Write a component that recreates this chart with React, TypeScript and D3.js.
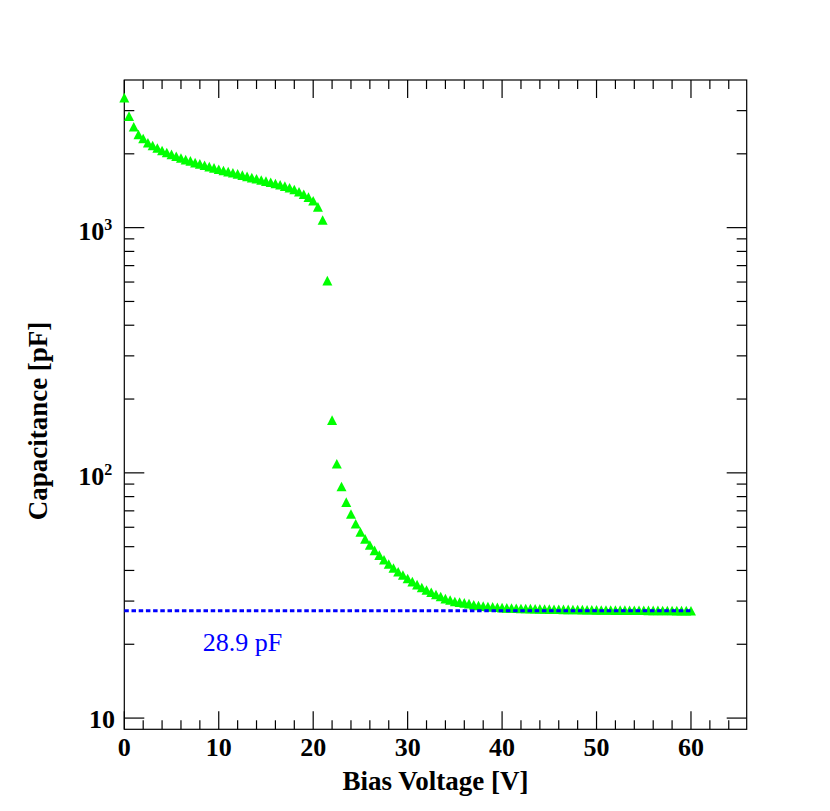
import React, { useEffect, useRef } from 'react';
import { select, scaleLinear, scaleLog, range } from 'd3';

const voltages: number[] = [
  0, 0.5, 1, 1.5, 2, 2.5, 3, 3.5, 4, 4.5, 5, 5.5, 6, 6.5, 7, 7.5, 8, 8.5, 9, 9.5,
  10, 10.5, 11, 11.5, 12, 12.5, 13, 13.5, 14, 14.5, 15, 15.5, 16, 16.5, 17, 17.5, 18, 18.5, 19, 19.5,
  20, 20.5, 21, 21.5, 22, 22.5, 23, 23.5, 24, 24.5, 25, 25.5, 26, 26.5, 27, 27.5, 28, 28.5, 29, 29.5,
  30, 30.5, 31, 31.5, 32, 32.5, 33, 33.5, 34, 34.5, 35, 35.5, 36, 36.5, 37, 37.5, 38, 38.5, 39, 39.5,
  40, 40.5, 41, 41.5, 42, 42.5, 43, 43.5, 44, 44.5, 45, 45.5, 46, 46.5, 47, 47.5, 48, 48.5, 49, 49.5,
  50, 50.5, 51, 51.5, 52, 52.5, 53, 53.5, 54, 54.5, 55, 55.5, 56, 56.5, 57, 57.5, 58, 58.5, 59, 59.5,
  60,
];

// capacitance in pF, one per voltage step
const capacitance: number[] = [
  3390, 2849, 2579, 2399, 2311, 2218, 2162, 2113, 2064, 2026, 1989, 1955, 1924, 1894, 1871, 1841, 1819, 1797, 1773, 1752,
  1730, 1709, 1692, 1675, 1657, 1638, 1618, 1600, 1583, 1565, 1548, 1531, 1514, 1496, 1477, 1455, 1430, 1400, 1368, 1332,
  1288, 1215, 1075, 608, 164, 109, 88, 76, 68, 62, 57.4, 53.8, 50.8, 48.3, 46.2, 44.2, 42.5, 40.9, 39.5, 38.3,
  37.1, 36.0, 35.0, 34.1, 33.3, 32.6, 31.9, 31.3, 30.7, 30.3, 29.9, 29.7, 29.5, 29.3, 29.0, 28.8, 28.6, 28.5, 28.4, 28.3,
  28.2, 28.15, 28.1, 28.05, 28.0, 27.97, 27.94, 27.91, 27.88, 27.85, 27.82, 27.8, 27.78, 27.76, 27.74, 27.72, 27.7, 27.68, 27.66, 27.64,
  27.62, 27.6, 27.59, 27.58, 27.57, 27.56, 27.55, 27.54, 27.53, 27.52, 27.51, 27.5, 27.49, 27.48, 27.47, 27.46, 27.45, 27.44, 27.43, 27.42,
  27.41,
];

const xTicks: number[] = [0, 10, 20, 30, 40, 50, 60];
const yDecades: number[] = [10, 100, 1000];
const yDecadeLabels: [string, string][] = [['10', ''], ['10', '2'], ['10', '3']];

const plateau = 27.4;
const plateauLabel = '28.9 pF';

const dims = {
  width: 830,
  height: 811,
  left: 124.3,
  right: 746.7,
  top: 80,
  bottom: 729.3,
};

const font = '"Liberation Serif", "Times New Roman", serif';

function App() {
  const svgRef = useRef<SVGSVGElement | null>(null);

  useEffect(() => {
    const svg = select(svgRef.current);
    svg.selectAll('*').remove();

    const x = scaleLinear().domain([0, 65.9]).range([dims.left, dims.right]);
    const y = scaleLog().domain([9, 4000]).range([dims.bottom, dims.top]);

    const g = svg.append('g');

    // frame
    g.append('rect')
      .attr('x', dims.left)
      .attr('y', dims.top)
      .attr('width', dims.right - dims.left)
      .attr('height', dims.bottom - dims.top)
      .attr('fill', 'none')
      .attr('stroke', '#000')
      .attr('stroke-width', 1.2);

    // x ticks, bottom and top
    const xMinor = range(0, 66, 2).filter(v => v % 10 !== 0);
    const ticks = g.append('g').attr('stroke', '#000').attr('stroke-width', 1.2);
    xTicks.forEach(v => {
      ticks.append('line').attr('x1', x(v)).attr('x2', x(v)).attr('y1', dims.bottom).attr('y2', dims.bottom - 18);
      ticks.append('line').attr('x1', x(v)).attr('x2', x(v)).attr('y1', dims.top).attr('y2', dims.top + 18);
    });
    xMinor.forEach(v => {
      ticks.append('line').attr('x1', x(v)).attr('x2', x(v)).attr('y1', dims.bottom).attr('y2', dims.bottom - 9);
      ticks.append('line').attr('x1', x(v)).attr('x2', x(v)).attr('y1', dims.top).attr('y2', dims.top + 9);
    });

    // y ticks, left and right
    const yMinor: number[] = [];
    [10, 100, 1000].forEach(d => {
      for (let k = 2; k <= 9; k++) {
        const v = d * k;
        if (v < 4000) yMinor.push(v);
      }
    });
    yDecades.forEach(v => {
      ticks.append('line').attr('x1', dims.left).attr('x2', dims.left + 20).attr('y1', y(v)).attr('y2', y(v));
      ticks.append('line').attr('x1', dims.right).attr('x2', dims.right - 20).attr('y1', y(v)).attr('y2', y(v));
    });
    yMinor.forEach(v => {
      ticks.append('line').attr('x1', dims.left).attr('x2', dims.left + 10).attr('y1', y(v)).attr('y2', y(v));
      ticks.append('line').attr('x1', dims.right).attr('x2', dims.right - 10).attr('y1', y(v)).attr('y2', y(v));
    });

    // x tick labels
    g.append('g')
      .selectAll('text')
      .data(xTicks)
      .enter()
      .append('text')
      .attr('x', d => x(d))
      .attr('y', 756)
      .attr('text-anchor', 'middle')
      .attr('font-family', font)
      .attr('font-weight', 'bold')
      .attr('font-size', 26)
      .text(d => `${d}`);

    // y tick labels
    yDecades.forEach((v, i) => {
      const [base, exp] = yDecadeLabels[i];
      const t = g.append('text')
        .attr('y', y(v) + (exp ? 12 : 10))
        .attr('text-anchor', 'end')
        .attr('font-family', font)
        .attr('font-weight', 'bold')
        .attr('font-size', 26);
      if (exp) {
        t.attr('x', 112.3);
        t.append('tspan').text(base);
        t.append('tspan').attr('font-size', 16).attr('dy', -10).text(exp);
      } else {
        t.attr('x', 115).text(base);
      }
    });

    // axis titles
    g.append('text')
      .attr('x', (dims.left + dims.right) / 2)
      .attr('y', 790)
      .attr('text-anchor', 'middle')
      .attr('font-family', font)
      .attr('font-weight', 'bold')
      .attr('font-size', 27)
      .text('Bias Voltage [V]');
    g.append('text')
      .attr('transform', 'translate(47, 421) rotate(-90)')
      .attr('text-anchor', 'middle')
      .attr('font-family', font)
      .attr('font-weight', 'bold')
      .attr('font-size', 27)
      .text('Capacitance [pF]');

    // data points: filled triangles
    const w = 5;
    const h = 4.8;
    g.append('g')
      .selectAll('path')
      .data(voltages.map((v, i) => ({ v, c: capacitance[i] })))
      .enter()
      .append('path')
      .attr('d', d => {
        const cx = x(d.v);
        const cy = y(d.c);
        return `M${cx - w},${cy + h}L${cx + w},${cy + h}L${cx},${cy - h}Z`;
      })
      .attr('fill', '#00ff00');

    // plateau line
    g.append('line')
      .attr('x1', x(0))
      .attr('x2', x(60))
      .attr('y1', y(plateau))
      .attr('y2', y(plateau))
      .attr('stroke', '#0000ff')
      .attr('stroke-width', 3)
      .attr('stroke-dasharray', '4.5 2.7');

    g.append('text')
      .attr('x', 202.7)
      .attr('y', 650.7)
      .attr('font-family', font)
      .attr('font-size', 26)
      .attr('fill', '#0000ff')
      .text(plateauLabel);
  }, []);

  return (
    <svg
      ref={svgRef}
      width={dims.width}
      height={dims.height}
      style={{ position: 'absolute', left: 0, top: 0, background: '#fff' }}
    />
  );
}

export default App;
